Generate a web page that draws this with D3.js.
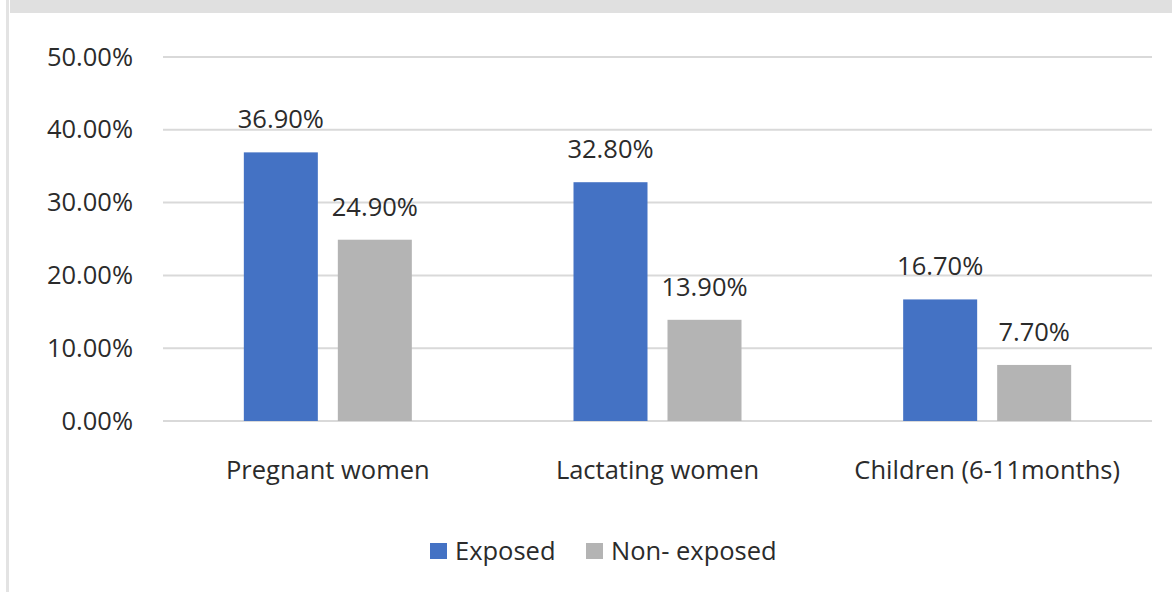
<!DOCTYPE html>
<html>
<head>
<meta charset="utf-8">
<script src="https://cdn.jsdelivr.net/npm/d3@7"></script>
<style>
  body { margin: 0; background: #fff; }
  text { font-family: "Open Sans", sans-serif; fill: #2b2b2b; }
</style>
</head>
<body>
<div id="chart"></div>
<script>
// chart data
var categories = ["Pregnant women", "Lactating women", "Children (6-11months)"]
var seriesNames = ["Exposed", "Non- exposed"]
var exposed = [0.369, 0.328, 0.167]
var nonExposed = [0.249, 0.139, 0.077]
var yTicks = [0, 0.1, 0.2, 0.3, 0.4, 0.5]
var colors = ["#4472c4", "#b4b4b4"]

var W = 1172, H = 592
var margin = {top: 57, left: 163, right: 20, bottom: 171}
var fs = 25.5

var svg = d3.select("#chart").append("svg")
  .attr("width", W)
  .attr("height", H)

// frame bits (chart is cropped at top)
svg.append("rect").attr("x", 10).attr("y", 0).attr("width", W - 10).attr("height", 13).attr("fill", "#e0e0e0")
svg.append("rect").attr("x", 6).attr("y", 0).attr("width", 3).attr("height", H).attr("fill", "#e3e3e3")

var xScale = d3.scaleBand()
  .domain(categories)
  .range([margin.left, 1152])

var xInner = d3.scaleBand()
  .domain(seriesNames)
  .range([0, 168])
  .paddingInner(20 / 94)

var yScale = d3.scaleLinear()
  .domain([0, 0.5])
  .range([421, margin.top])

var fmt = d3.format(".2%")

// gridlines
svg.append("g")
  .selectAll("line")
  .data(yTicks)
  .enter().append("line")
  .attr("x1", margin.left)
  .attr("x2", 1152)
  .attr("y1", function(d) { return yScale(d) })
  .attr("y2", function(d) { return yScale(d) })
  .attr("stroke", "#d9d9d9")
  .attr("stroke-width", 2)

// y axis labels
var yAxis = svg.append("g")
  .attr("transform", "translate(" + 133 + ",0)")
  .call(d3.axisLeft(yScale).tickValues(yTicks).tickFormat(fmt).tickSize(0).tickPadding(0))
yAxis.select(".domain").remove()
yAxis.selectAll("text")
  .attr("font-size", fs)
  .attr("font-family", null)
  .attr("fill", "#2b2b2b")

// x axis labels
var xAxis = svg.append("g")
  .attr("transform", "translate(0," + 421 + ")")
  .call(d3.axisBottom(xScale).tickSize(0).tickPadding(40))
xAxis.select(".domain").remove()
xAxis.selectAll("text")
  .attr("font-size", fs)
  .attr("font-family", null)
  .attr("fill", "#2b2b2b")

var rows = categories.map(function(c, i) {
  return {cat: c, vals: [exposed[i], nonExposed[i]]}
})

var groups = svg.selectAll(".grp")
  .data(rows)
  .enter().append("g")
  .attr("class", "grp")
  .attr("transform", function(d) {
    return "translate(" + (xScale(d.cat) + xScale.bandwidth() / 2 - 84) + ",0)"
  })

groups.selectAll("rect")
  .data(function(d) { return d.vals.map(function(v, j) { return {v: v, s: seriesNames[j], j: j} }) })
  .enter().append("rect")
  .attr("x", function(d) { return xInner(d.s) })
  .attr("width", xInner.bandwidth())
  .attr("y", function(d) { return yScale(d.v) })
  .attr("height", function(d) { return yScale(0) - yScale(d.v) })
  .attr("fill", function(d) { return colors[d.j] })

groups.selectAll("text.lbl")
  .data(function(d) { return d.vals.map(function(v, j) { return {v: v, s: seriesNames[j]} }) })
  .enter().append("text")
  .attr("class", "lbl")
  .attr("x", function(d) { return xInner(d.s) + xInner.bandwidth() / 2 })
  .attr("y", function(d) { return yScale(d.v) - 33 })
  .attr("text-anchor", "middle")
  .attr("dy", "0.35em")
  .attr("font-size", fs)
  .text(function(d) { return fmt(d.v) })

// legend
var legend = svg.append("g").attr("transform", "translate(430,543)")
var lx = [0, 156]
seriesNames.forEach(function(s, i) {
  legend.append("rect")
    .attr("x", lx[i]).attr("y", 0)
    .attr("width", 17).attr("height", 16)
    .attr("fill", colors[i])
  legend.append("text")
    .attr("x", lx[i] + 25).attr("y", 8)
    .attr("dy", "0.35em")
    .attr("font-size", fs)
    .text(s)
})
</script>
</body>
</html>
